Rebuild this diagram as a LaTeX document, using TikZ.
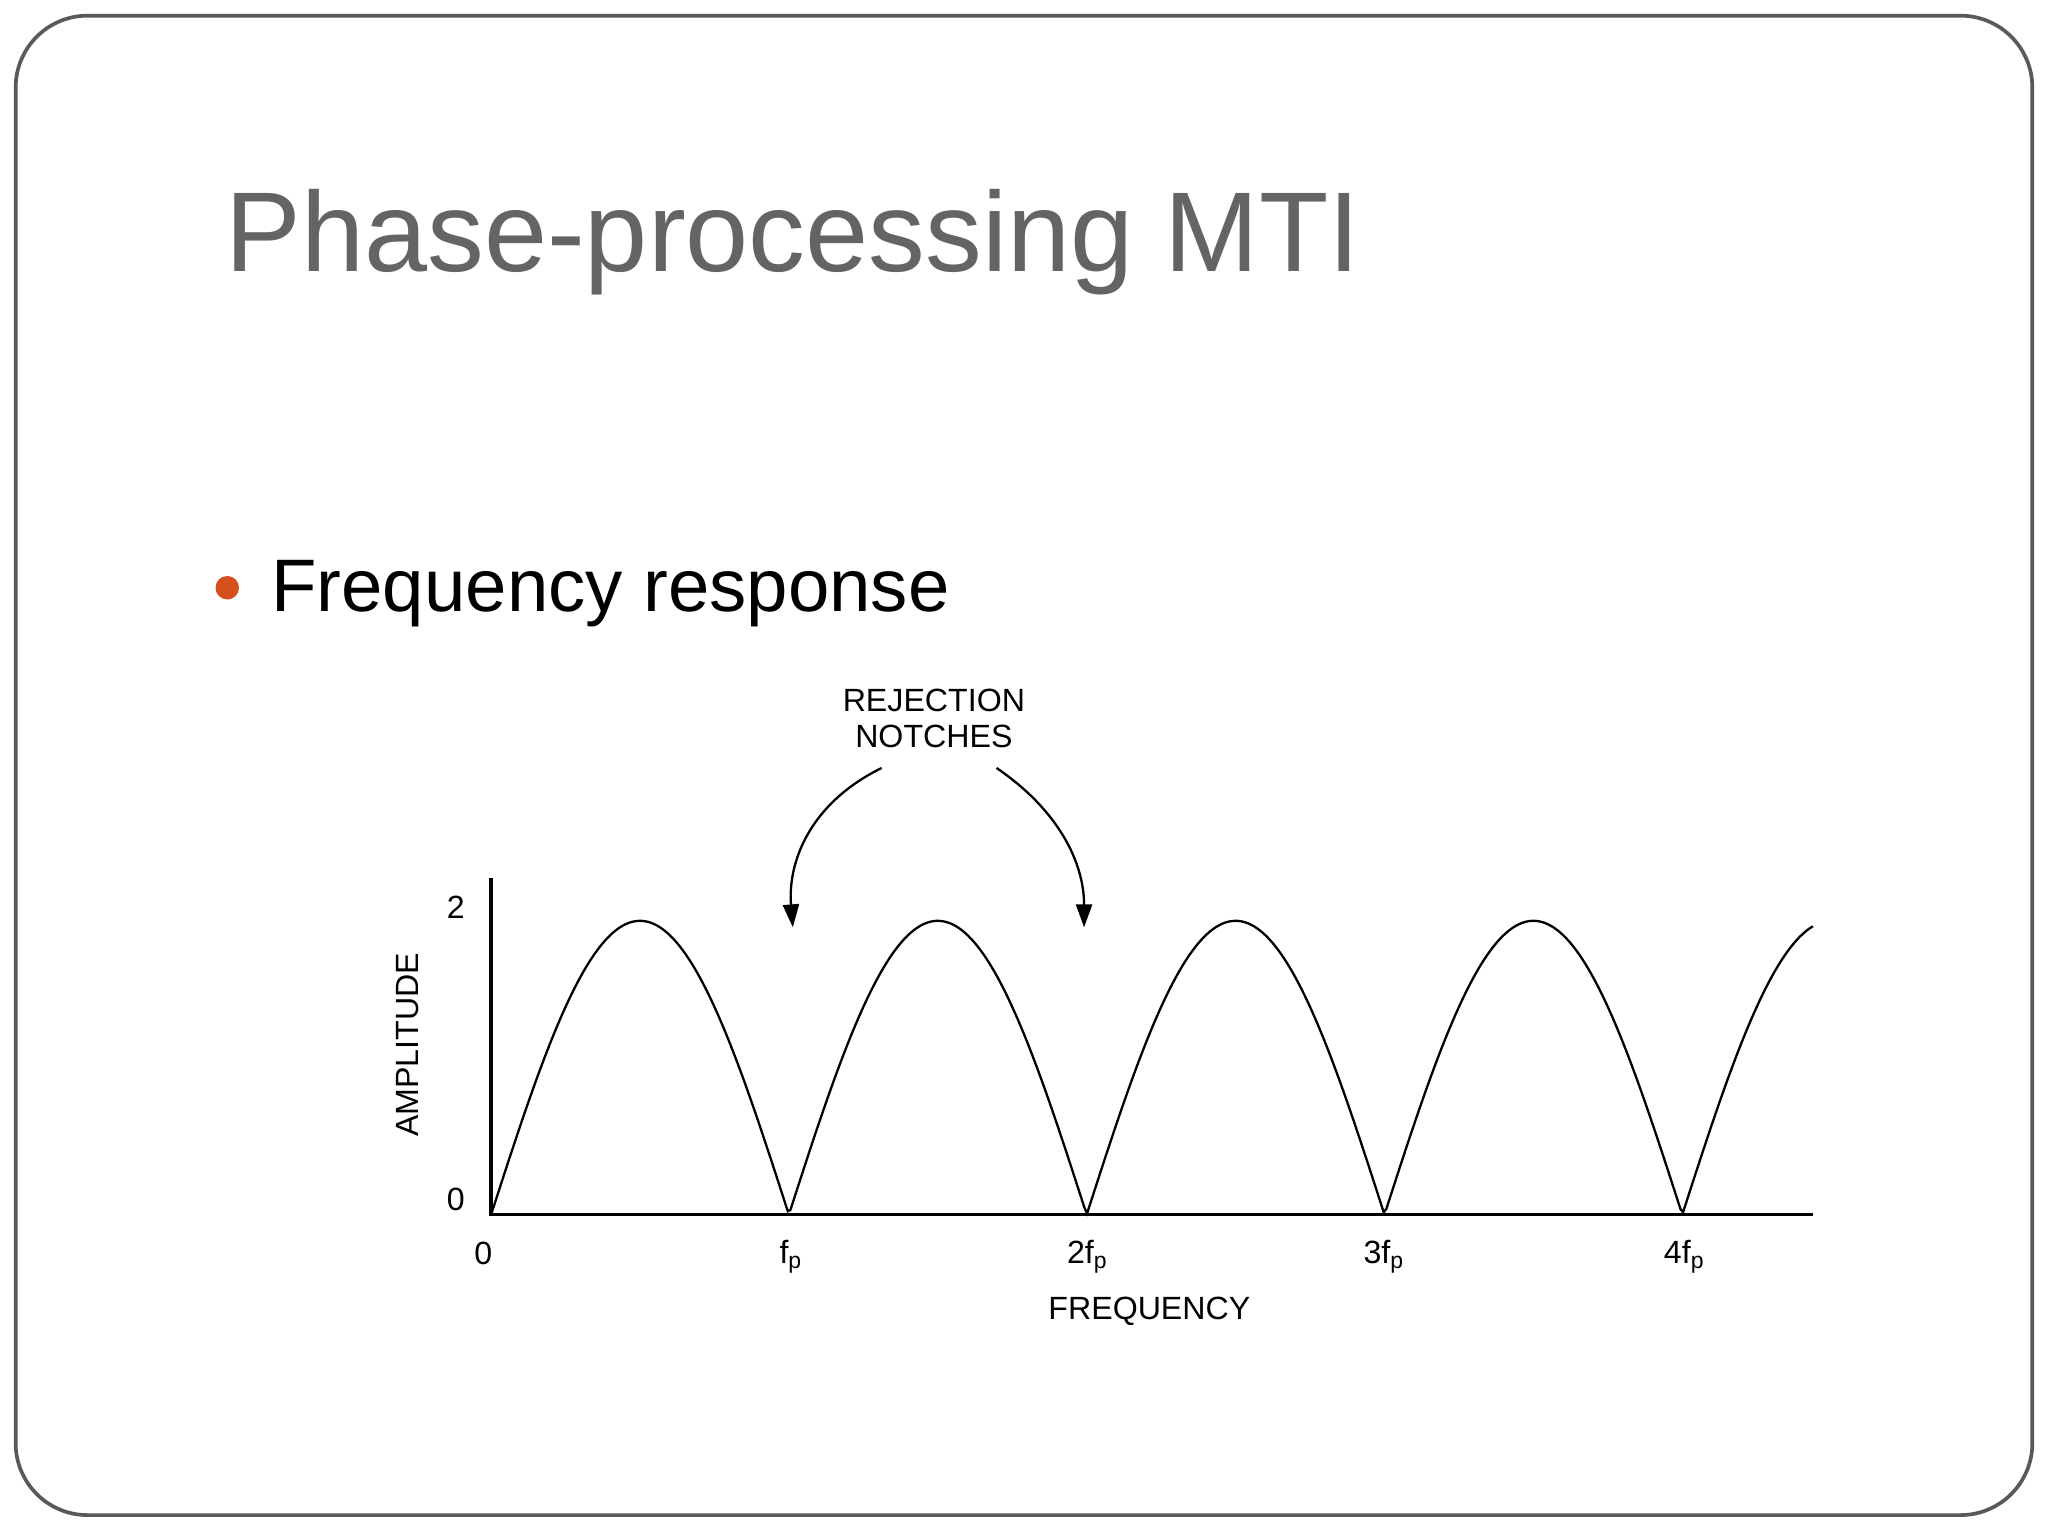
\documentclass[tikz,border=0pt]{standalone}
\usepackage{fontspec}
\setmainfont{Liberation Sans}
\usetikzlibrary{arrows.meta}
\definecolor{titlegray}{RGB}{100,100,100}
\definecolor{bulletorange}{RGB}{214,80,30}
\begin{document}
\begin{tikzpicture}[x=0.01cm,y=-0.01cm,
  small/.style={font=\fontsize{7}{8}\selectfont, inner sep=0pt},
  notcharrow/.style={-{Triangle[length=5pt,width=3.5pt]}, line width=0.5pt}]
\useasboundingbox (0,0) rectangle (1568,1176);
\fill[white] (0,0) rectangle (1568,1176);
\draw[gray!70!black, line width=0.8pt, rounded corners=0.55cm] (12,12) rectangle (1556,1160);
\node[anchor=base west, text=titlegray, font=\fontsize{24.7}{30}\selectfont, inner sep=0pt] (title) at (172,208) {Phase-processing MTI};
\fill[bulletorange] (174,450) circle (9);
\node[anchor=base west, font=\fontsize{16.2}{20}\selectfont, inner sep=0pt] (bullet) at (207,468) {Frequency response};
% axes
\coordinate (origin) at (376,930);
\coordinate (ytop) at (376,672);
\coordinate (xend) at (1388,930);
\draw[line width=0.7pt] (ytop) -- (origin) -- (xend);
\draw[line width=0.5pt] plot[domain=376:1388, samples=500] (\x, {930-225*abs(sin(0.789474*(\x-376)))});
\node[small] (y2) at (349,695) {2};
\node[small] (y0) at (349,918) {0};
\node[small] (x0) at (370,960) {0};
\node[small] (x1) at (606,962) {f\textsubscript{p}};
\node[small] (x2) at (833,962) {2f\textsubscript{p}};
\node[small] (x3) at (1060,962) {3f\textsubscript{p}};
\node[small] (x4) at (1290,962) {4f\textsubscript{p}};
\node[small] (xl) at (880,1004) {FREQUENCY};
\node[small, rotate=90] (yl) at (312,800) {AMPLITUDE};
\node[small, align=center] (rej) at (715,550) {REJECTION\\NOTCHES};
\coordinate (n1) at (607,710);
\coordinate (n2) at (830,710);
\draw[notcharrow] (675,588) .. controls (620,615) and (603,660) .. (n1);
\draw[notcharrow] (763,588) .. controls (810,620) and (830,660) .. (n2);
\end{tikzpicture}
\end{document}
